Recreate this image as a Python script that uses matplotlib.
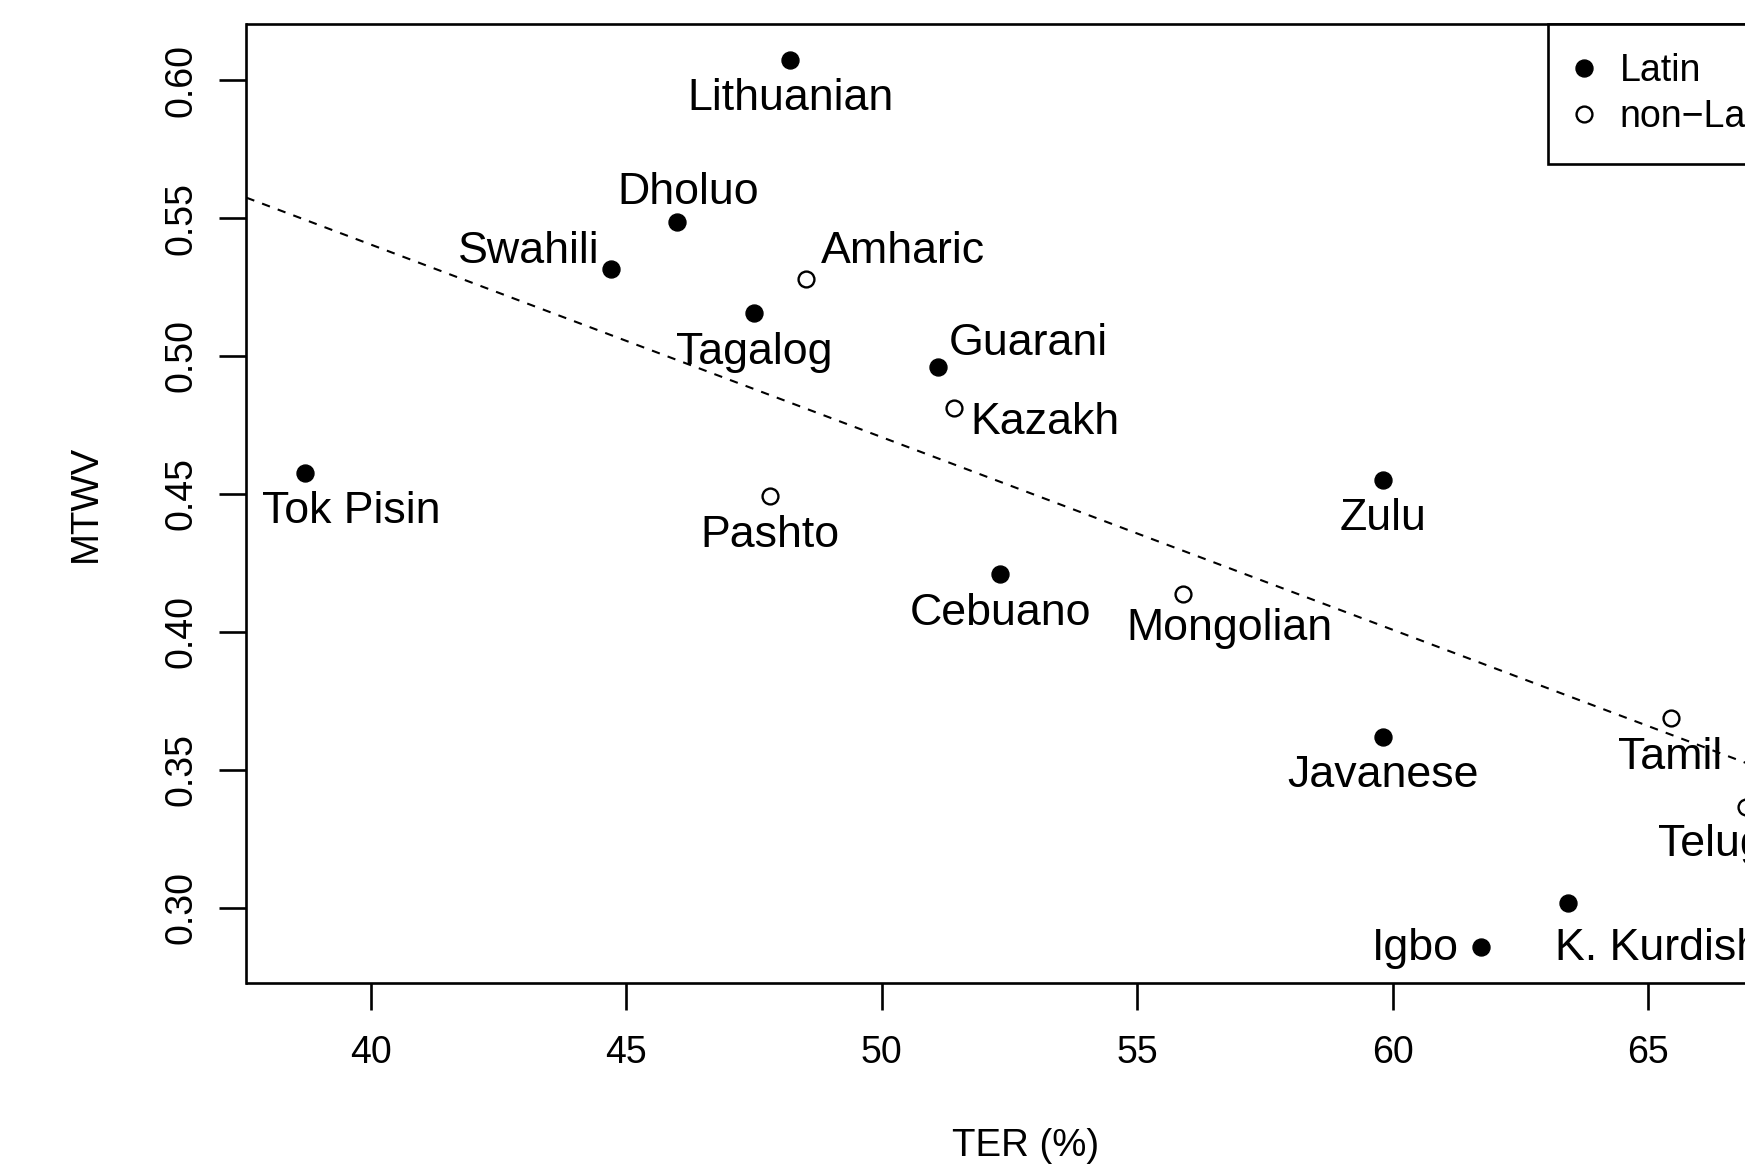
import matplotlib
matplotlib.use("Agg")
import matplotlib.pyplot as plt
from matplotlib.lines import Line2D

# TER (%) and MTWV per language
languages = ["Lithuanian", "Dholuo", "Swahili", "Amharic", "Tagalog", "Guarani",
             "Kazakh", "Tok Pisin", "Pashto", "Zulu", "Cebuano", "Mongolian",
             "Tamil", "Javanese", "Telugu", "K. Kurdish", "Igbo"]
ter = [48.21, 46.00, 44.70, 48.52, 47.50, 51.11,
       51.42, 38.71, 47.82, 59.82, 52.32, 55.89,
       65.44, 59.82, 66.92, 63.43, 61.72]
mtwv = [0.6072, 0.5487, 0.5314, 0.5278, 0.5157, 0.4961,
        0.4810, 0.4575, 0.4491, 0.4551, 0.4210, 0.4138,
        0.3687, 0.3619, 0.3367, 0.3019, 0.2860]
latin = [True, True, True, False, True, True,
         False, True, False, True, True, False,
         False, True, False, True, True]

# dashed fit line as drawn in the figure
fit_intercept = 0.8196
fit_slope = -0.00698

# label placement: (dx px, dy px downwards, ha)
label_pos = {
    "Lithuanian": (0, 34, "center"), "Dholuo": (11, -34, "center"),
    "Swahili": (-11, -22, "right"), "Amharic": (15, -32, "left"),
    "Tagalog": (0, 35, "center"), "Guarani": (10, -28, "left"),
    "Kazakh": (16, 10, "left"), "Tok Pisin": (47, 34, "center"),
    "Pashto": (0, 35, "center"), "Zulu": (0, 34, "center"),
    "Cebuano": (0, 35, "center"), "Mongolian": (47, 30, "center"),
    "Tamil": (0, 35, "center"), "Javanese": (0, 34, "center"),
    "Telugu": (-22, 33, "center"), "K. Kurdish": (-13, 41, "left"),
    "Igbo": (-22, -3, "right"),
}

plt.rcParams["font.family"] = ["Liberation Sans", "DejaVu Sans"]
lw = 1.9

fig = plt.figure(figsize=(17.45, 11.7), dpi=100)
W, H = 1745, 1170
ax = fig.add_axes([246.5 / W, (H - 982.7) / H, (1804.5 - 246.5) / W, (982.7 - 24) / H])
ax.set_xlim(37.571, 68.06)
ax.set_ylim(0.2729, 0.6203)

xs_l = [x for x, l in zip(ter, latin) if l]
ys_l = [y for y, l in zip(mtwv, latin) if l]
xs_n = [x for x, l in zip(ter, latin) if not l]
ys_n = [y for y, l in zip(mtwv, latin) if not l]
ax.plot(xs_l, ys_l, "o", ms=12.2, color="black", mec="black", ls="none", clip_on=False)
ax.plot(xs_n, ys_n, "o", ms=11.4, mfc="white", mec="black", mew=1.7, ls="none", clip_on=False)

ax.axline((0, fit_intercept), slope=fit_slope, color="black", lw=1.5, ls=(0, (4, 4)))

for name, x, y in zip(languages, ter, mtwv):
    dx, dy, ha = label_pos[name]
    ax.annotate(name, (x, y), xytext=(dx, -(dy + 16)), textcoords="offset pixels",
                ha=ha, va="baseline", fontsize=32.2)

ax.set_xticks([40, 45, 50, 55, 60, 65])
ax.set_yticks([0.30, 0.35, 0.40, 0.45, 0.50, 0.55, 0.60])
ax.set_yticklabels(["0.30", "0.35", "0.40", "0.45", "0.50", "0.55", "0.60"],
                   rotation=90, va="center")
ax.tick_params(length=19.4, width=lw, labelsize=27)
ax.tick_params(axis="x", pad=18)
ax.tick_params(axis="y", pad=14.5)
for s in ax.spines.values():
    s.set_linewidth(lw)

ax.set_xlabel("TER (%)", fontsize=27.6, labelpad=41)
ax.set_ylabel("MTWV", fontsize=27.6, labelpad=43)

handles = [Line2D([], [], marker="o", ls="none", color="black", ms=12.2),
           Line2D([], [], marker="o", ls="none", mfc="white", mec="black", mew=1.7, ms=11.4)]
leg = ax.legend(handles, ["Latin", "non\u2212Latin"], loc="upper left",
                bbox_to_anchor=(1547.7 / W, (H - 24) / H), bbox_transform=fig.transFigure,
                borderaxespad=0, fontsize=27, fancybox=False, framealpha=1,
                edgecolor="black", borderpad=0.78, handlelength=0.37,
                handletextpad=0.77, labelspacing=0.25)
leg.get_frame().set_linewidth(lw)

fig.savefig("out.png", dpi=100)
